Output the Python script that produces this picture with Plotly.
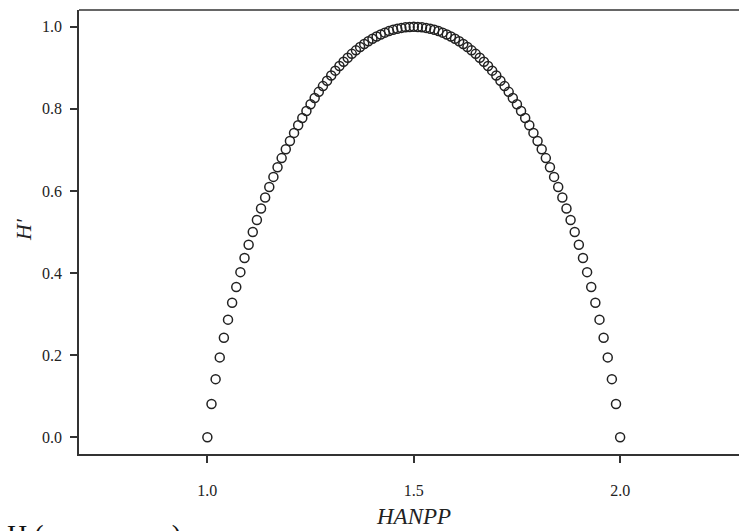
import plotly.graph_objects as go

# HANPP values (x) and H' values (y)
hanpp = [1.00, 1.01, 1.02, 1.03, 1.04, 1.05, 1.06, 1.07, 1.08, 1.09,
         1.10, 1.11, 1.12, 1.13, 1.14, 1.15, 1.16, 1.17, 1.18, 1.19,
         1.20, 1.21, 1.22, 1.23, 1.24, 1.25, 1.26, 1.27, 1.28, 1.29,
         1.30, 1.31, 1.32, 1.33, 1.34, 1.35, 1.36, 1.37, 1.38, 1.39,
         1.40, 1.41, 1.42, 1.43, 1.44, 1.45, 1.46, 1.47, 1.48, 1.49,
         1.50, 1.51, 1.52, 1.53, 1.54, 1.55, 1.56, 1.57, 1.58, 1.59,
         1.60, 1.61, 1.62, 1.63, 1.64, 1.65, 1.66, 1.67, 1.68, 1.69,
         1.70, 1.71, 1.72, 1.73, 1.74, 1.75, 1.76, 1.77, 1.78, 1.79,
         1.80, 1.81, 1.82, 1.83, 1.84, 1.85, 1.86, 1.87, 1.88, 1.89,
         1.90, 1.91, 1.92, 1.93, 1.94, 1.95, 1.96, 1.97, 1.98, 1.99,
         2.00]

h_prime = [0.0000, 0.0808, 0.1414, 0.1944, 0.2423, 0.2864, 0.3274, 0.3659, 0.4022, 0.4365,
           0.4690, 0.4999, 0.5294, 0.5574, 0.5842, 0.6098, 0.6343, 0.6577, 0.6801, 0.7015,
           0.7219, 0.7415, 0.7602, 0.7780, 0.7950, 0.8113, 0.8267, 0.8415, 0.8555, 0.8687,
           0.8813, 0.8932, 0.9044, 0.9149, 0.9248, 0.9341, 0.9427, 0.9507, 0.9580, 0.9648,
           0.9710, 0.9765, 0.9815, 0.9858, 0.9896, 0.9928, 0.9954, 0.9974, 0.9988, 0.9997,
           1.0000, 0.9997, 0.9988, 0.9974, 0.9954, 0.9928, 0.9896, 0.9858, 0.9815, 0.9765,
           0.9710, 0.9648, 0.9580, 0.9507, 0.9427, 0.9341, 0.9248, 0.9149, 0.9044, 0.8932,
           0.8813, 0.8687, 0.8555, 0.8415, 0.8267, 0.8113, 0.7950, 0.7780, 0.7602, 0.7415,
           0.7219, 0.7015, 0.6801, 0.6577, 0.6343, 0.6098, 0.5842, 0.5574, 0.5294, 0.4999,
           0.4690, 0.4365, 0.4022, 0.3659, 0.3274, 0.2864, 0.2423, 0.1944, 0.1414, 0.0808,
           0.0000]

x_ticks = [1.0, 1.5, 2.0]
y_ticks = [0.0, 0.2, 0.4, 0.6, 0.8, 1.0]

SERIF = "Liberation Serif, Times New Roman, serif"

fig = go.Figure()
fig.add_trace(go.Scatter(
    x=hanpp, y=h_prime, mode="markers",
    marker=dict(symbol="circle-open", size=9, color="#222222",
                line=dict(width=1.5, color="#222222")),
    showlegend=False,
))

fig.update_layout(
    width=739, height=531,
    margin=dict(l=79, r=0, t=10, b=77),
    paper_bgcolor="white", plot_bgcolor="white",
    font=dict(family=SERIF, color="#222222"),
    xaxis=dict(
        range=[0.689, 2.288], tickvals=x_ticks, ticktext=["1.0", "1.5", "2.0"],
        showgrid=False, zeroline=False, showline=True, linecolor="#333333", linewidth=1.5,
        ticks="outside", ticklen=7, tickwidth=1.5, tickcolor="#333333",
        tickfont=dict(family=SERIF, size=16, color="#222222"),
        ticklabelstandoff=14,
    ),
    yaxis=dict(
        range=[-0.041, 1.041], tickvals=y_ticks,
        ticktext=["0.0", "0.2", "0.4", "0.6", "0.8", "1.0"],
        showgrid=False, zeroline=False, showline=True, linecolor="#333333", linewidth=1.5,
        ticks="outside", ticklen=7, tickwidth=1.5, tickcolor="#333333",
        tickfont=dict(family=SERIF, size=16, color="#222222"),
        ticklabelstandoff=5,
    ),
    shapes=[dict(type="line", xref="paper", yref="paper", x0=0, x1=1, y0=1, y1=1,
                 line=dict(color="#333333", width=1.5))],
    annotations=[
        dict(text="<i>HANPP</i>", xref="x", yref="paper", x=1.5, y=-(516 - 454) / 444,
             xanchor="center", yanchor="middle", showarrow=False,
             font=dict(family=SERIF, size=23, color="#222222")),
        dict(text="<i>H'</i>", xref="paper", yref="paper", x=-(79 - 23) / 660,
             y=(454 - 230) / 444, xanchor="center", yanchor="middle", textangle=-90,
             showarrow=False, font=dict(family=SERIF, size=22, color="#222222")),
        dict(text="H (max. norm.)", xref="paper", yref="paper", x=-(79 - 5) / 660,
             y=-(517 - 454) / 444, xanchor="left", yanchor="top", showarrow=False,
             font=dict(family=SERIF, size=28, color="#111111")),
    ],
)

fig.write_html("out.html")
